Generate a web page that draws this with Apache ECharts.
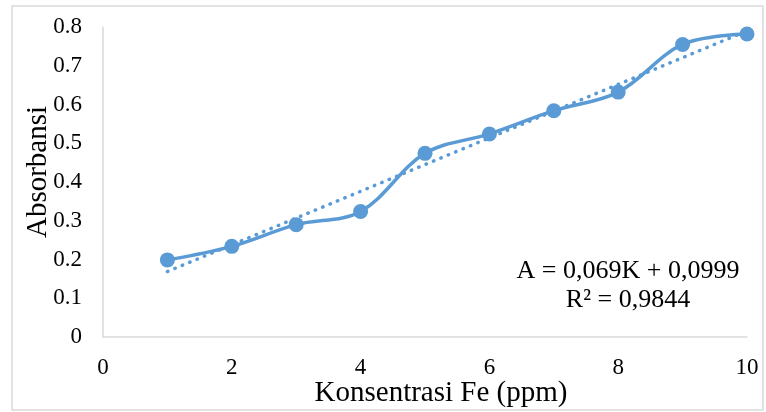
<!DOCTYPE html>
<html style="height: 100%">
<head>
  <meta charset="utf-8">
</head>
<body style="height: 100%; margin: 0; background: #fff">
  <div id="container" style="width: 766px; height: 412px"></div>
  <script type="text/javascript" src="https://cdn.jsdelivr.net/npm/echarts@6/dist/echarts.min.js"></script>
  <script type="text/javascript">
    // data
    var konsentrasi = [1, 2, 3, 4, 5, 6, 7, 8, 9, 10];
    var absorbansi = [0.199, 0.234, 0.290, 0.324, 0.474, 0.524, 0.584, 0.632, 0.755, 0.782];
    // linear trendline ends (dotted)
    var trendX = [1, 10];
    var trendY = [0.169, 0.790];
    var persamaan = ['A = 0,069K + 0,0999', 'R² = 0,9844'];

    var blue = '#5B9BD5';
    var font = '"Liberation Serif", "Times New Roman", serif';

    var dom = document.getElementById("container");
    var myChart = echarts.init(dom);

    var option = {
      animation: false,
      textStyle: { fontFamily: font },
      grid: { left: 103, right: 19, top: 27, bottom: 75, outerBoundsMode: 'none' },
      xAxis: {
        type: 'value',
        min: 0, max: 10, interval: 2,
        name: 'Konsentrasi Fe (ppm)',
        nameLocation: 'middle',
        nameGap: 42,
        nameMoveOverlap: false,
        nameTextStyle: { fontFamily: font, fontSize: 29, color: '#000', padding: [0, 0, 0, 32] },
        axisLine: { show: true, lineStyle: { color: '#d9d9d9', width: 1.5 } },
        axisTick: { show: false },
        splitLine: { show: false },
        axisLabel: { fontFamily: font, fontSize: 23, color: '#000', margin: 19 }
      },
      yAxis: {
        type: 'value',
        min: 0, max: 0.8, interval: 0.1,
        name: 'Absorbansi',
        nameLocation: 'middle',
        nameGap: 50,
        nameMoveOverlap: false,
        nameTextStyle: { fontFamily: font, fontSize: 29, color: '#000', padding: [0, 0, 0, 20] },
        axisLine: { show: true, lineStyle: { color: '#d9d9d9', width: 1.5 } },
        axisTick: { show: false },
        splitLine: { show: false },
        axisLabel: { fontFamily: font, fontSize: 23, color: '#000', margin: 21 }
      },
      series: [
        {
          type: 'line',
          data: trendX.map(function (x, i) { return [x, trendY[i]]; }),
          symbol: 'none',
          lineStyle: { color: blue, width: 3.5, type: [0.5, 7.5], cap: 'round' },
          z: 1
        },
        {
          type: 'line',
          data: konsentrasi.map(function (x, i) { return [x, absorbansi[i]]; }),
          smooth: 0.35,
          symbol: 'circle',
          symbolSize: 15,
          itemStyle: { color: blue },
          lineStyle: { color: blue, width: 3.5 },
          z: 2
        }
      ],
      graphic: [
        {
          type: 'rect',
          shape: { x: 12, y: 6, width: 751, height: 404 },
          style: { fill: 'none', stroke: '#d9d9d9', lineWidth: 1.5 },
          silent: true
        },
        {
          type: 'text',
          x: 628, y: 271,
          style: {
            text: persamaan[0], fontFamily: font, fontSize: 26, fill: '#000',
            align: 'center', verticalAlign: 'middle'
          }
        },
        {
          type: 'text',
          x: 628, y: 300,
          style: {
            text: persamaan[1], fontFamily: font, fontSize: 26, fill: '#000',
            align: 'center', verticalAlign: 'middle'
          }
        }
      ]
    };
    myChart.setOption(option);
  </script>
</body>
</html>
